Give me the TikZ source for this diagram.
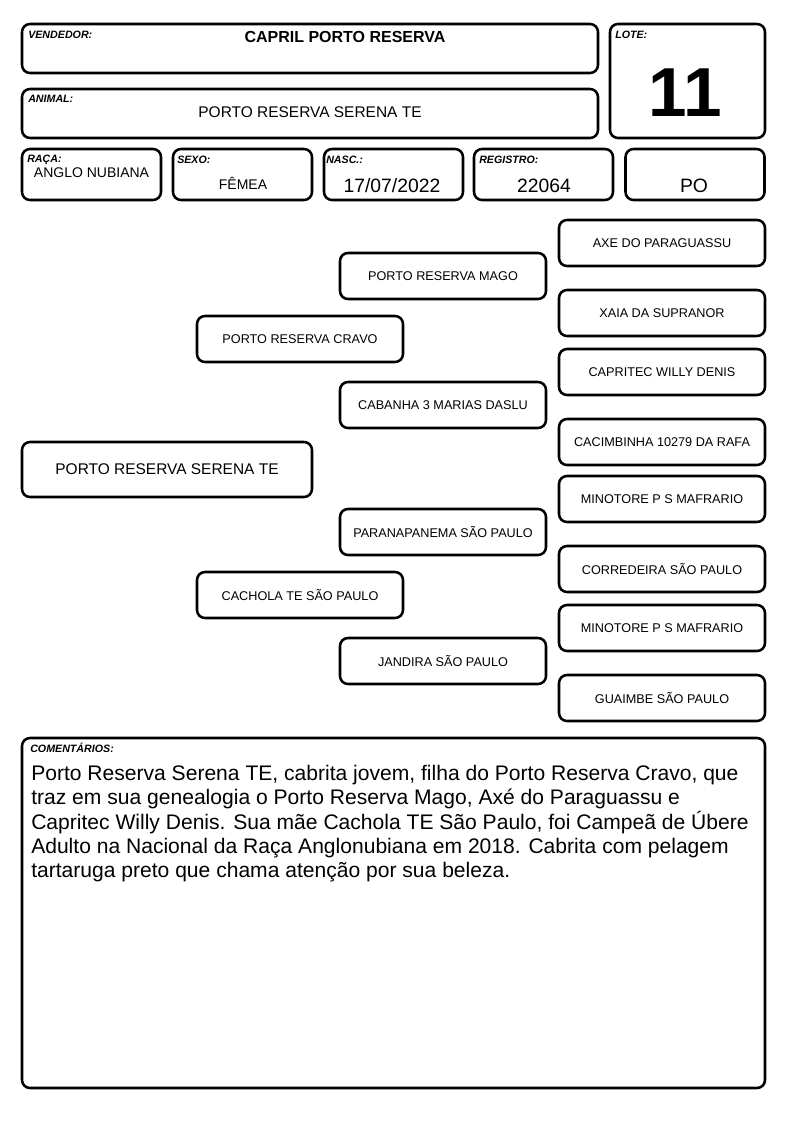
\documentclass[tikz,border=0pt]{standalone}
\usepackage{fontspec}
\setmainfont{Liberation Sans}
\usepackage{tikz}
\usetikzlibrary{positioning}
\definecolor{ink}{RGB}{0,0,0}
\tikzset{
  box/.style={rectangle, draw=ink, rounded corners=6pt,
    line width=1.9pt, inner sep=0pt},
  pedbox/.style={box, minimum width=154.5pt, minimum height=34.5pt,
    font=\fontsize{9.5}{11}\selectfont},
  tag/.style={inner sep=0pt, anchor=base west,
    font=\fontsize{8}{9}\selectfont\bfseries\itshape},
  value/.style={inner sep=0pt, anchor=base,
    font=\fontsize{10.5}{12}\selectfont},
  bigvalue/.style={value, font=\fontsize{14.5}{16}\selectfont}
}

\begin{document}
\begin{tikzpicture}[x=0.75pt, y=-0.75pt]
  \useasboundingbox (0,0) rectangle (794,1123);

  % header
  \node[box, minimum width=432pt, minimum height=36.75pt] (vend) at (310,48.5) {};
  \node[box, minimum width=432pt, minimum height=36.75pt] (anim) at (310,113.5) {};
  \node[box, minimum width=116.25pt, minimum height=85.5pt] (lote) at (687.5,81) {};
  \node[tag] (vendtag) at (28,39) {VENDEDOR:};
  \node[tag] (animtag) at (28,103) {ANIMAL:};
  \node[tag] (lotetag) at (615,39) {LOTE:};
  \node[value, font=\fontsize{12}{14}\selectfont\bfseries] (vendval) at (345,43) {CAPRIL PORTO RESERVA};
  \node[value, font=\fontsize{11.6}{14}\selectfont] (animval) at (310,118) {PORTO RESERVA SERENA TE};
  \node[value, font=\fontsize{52}{56}\selectfont\bfseries] (loteval) at (685,117) {11};

  % data row
  \node[box, minimum width=104.25pt, minimum height=38.25pt] (raca) at (91.5,174.5) {};
  \node[box, minimum width=104.25pt, minimum height=38.25pt] (sexo) at (242.5,174.5) {};
  \node[box, minimum width=104.25pt, minimum height=38.25pt] (nasc) at (393.5,174.5) {};
  \node[box, minimum width=104.25pt, minimum height=38.25pt] (reg) at (543.5,174.5) {};
  \node[box, minimum width=104.25pt, minimum height=38.25pt] (grau) at (695,174.5) {};
  \node[tag] (racatag) at (27,163) {RAÇA:};
  \node[tag] (sexotag) at (177,164) {SEXO:};
  \node[tag] (nasctag) at (326,164) {NASC.:};
  \node[tag] (regtag) at (479,164) {REGISTRO:};
  \node[value] (racaval) at (91.5,178) {ANGLO NUBIANA};
  \node[value] (sexoval) at (243,190) {FÊMEA};
  \node[bigvalue] (nascval) at (392,193) {17/07/2022};
  \node[bigvalue] (regval) at (544,193) {22064};
  \node[bigvalue] (grauval) at (694,193) {PO};

  % pedigree
  \node[box, minimum width=217.5pt, minimum height=41.25pt,
    font=\fontsize{11.6}{14}\selectfont] (animal) at (167,469.5) {PORTO RESERVA SERENA TE};

  \node[pedbox] (pai) at (300,339) {PORTO RESERVA CRAVO};
  \node[pedbox] (mae) at (300,595) {CACHOLA TE SÃO PAULO};

  \node[pedbox] (avopp) at (443,276) {PORTO RESERVA MAGO};
  \node[pedbox] (avopm) at (443,405) {CABANHA 3 MARIAS DASLU};
  \node[pedbox] (avomp) at (443,532) {PARANAPANEMA SÃO PAULO};
  \node[pedbox] (avomm) at (443,661) {JANDIRA SÃO PAULO};

  \node[pedbox] (bis1) at (662,243) {AXE DO PARAGUASSU};
  \node[pedbox] (bis2) at (662,313) {XAIA DA SUPRANOR};
  \node[pedbox] (bis3) at (662,372) {CAPRITEC WILLY DENIS};
  \node[pedbox] (bis4) at (662,442) {CACIMBINHA 10279 DA RAFA};
  \node[pedbox] (bis5) at (662,499) {MINOTORE P S MAFRARIO};
  \node[pedbox] (bis6) at (662,569) {CORREDEIRA SÃO PAULO};
  \node[pedbox] (bis7) at (662,628) {MINOTORE P S MAFRARIO};
  \node[pedbox] (bis8) at (662,698) {GUAIMBE SÃO PAULO};

  % comments
  \node[box, minimum width=557.25pt, minimum height=262.5pt] (coment) at (393.5,913) {};
  \node[tag] (comtag) at (30,752) {COMENTÁRIOS:};
  \node[inner sep=0pt, anchor=north west, align=left,
    font=\fontsize{15.8}{18.2}\selectfont] (comtxt) at (31,765)
    {Porto Reserva Serena TE, cabrita jovem, filha do Porto Reserva Cravo, que\\
     traz em sua genealogia o Porto Reserva Mago, Axé do Paraguassu e\\
     Capritec Willy Denis. Sua mãe Cachola TE São Paulo, foi Campeã de Úbere\\
     Adulto na Nacional da Raça Anglonubiana em 2018. Cabrita com pelagem\\
     tartaruga preto que chama atenção por sua beleza.};
\end{tikzpicture}
\end{document}
